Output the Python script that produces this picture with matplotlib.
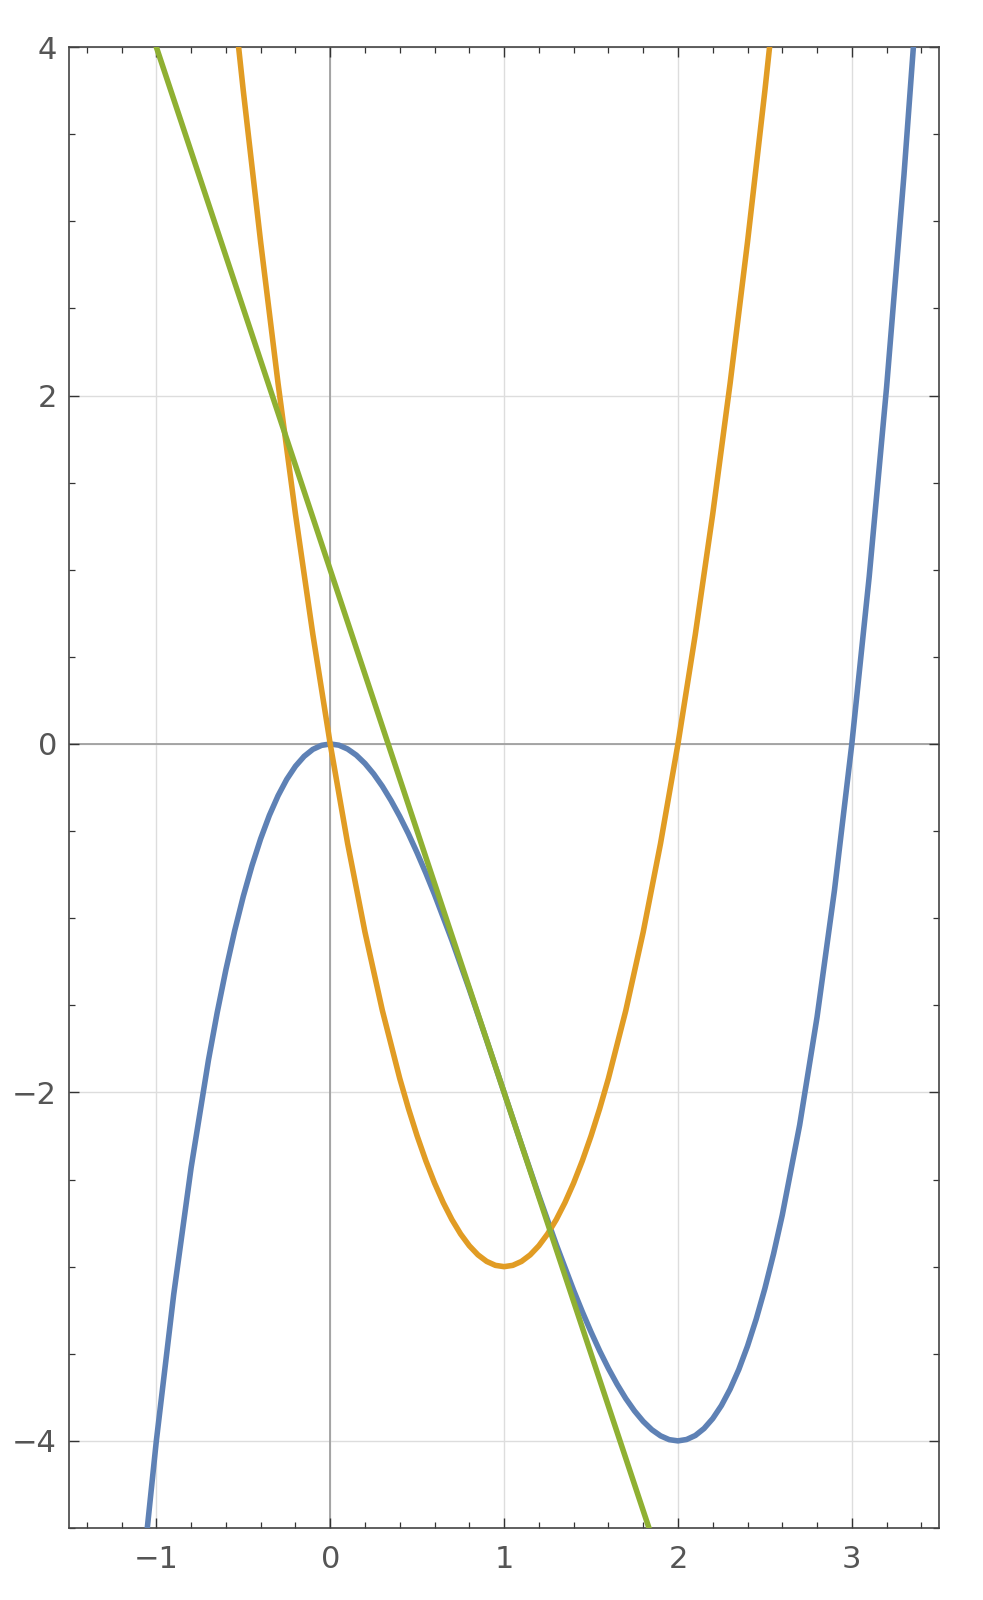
import matplotlib.pyplot as plt
from matplotlib.ticker import MultipleLocator

# values (denser around the turning points)
x_blue = [-1.1, -1.0, -0.9, -0.8, -0.7, -0.65, -0.6, -0.55, -0.5, -0.45, -0.4, -0.35,
          -0.3, -0.25, -0.2, -0.15, -0.1, -0.05,
          0.0, 0.05, 0.1, 0.15, 0.2, 0.25, 0.3, 0.35, 0.4, 0.45, 0.5, 0.55,
          0.6, 0.7, 0.8, 0.9, 1.0, 1.1, 1.2, 1.3, 1.4, 1.45,
          1.5, 1.55, 1.6, 1.65, 1.7, 1.75, 1.8, 1.85, 1.9, 1.95,
          2.0, 2.05, 2.1, 2.15, 2.2, 2.25, 2.3, 2.35, 2.4, 2.45, 2.5, 2.55,
          2.6, 2.7, 2.8, 2.9, 3.0, 3.1, 3.2, 3.3, 3.4]
y_blue = [-4.961, -4.0, -3.159, -2.432, -1.813, -1.542, -1.296, -1.074, -0.875, -0.699, -0.544, -0.410,
          -0.297, -0.203, -0.128, -0.071, -0.031, -0.008,
          0.0, -0.007, -0.029, -0.064, -0.112, -0.172, -0.243, -0.325, -0.416, -0.516, -0.625, -0.741,
          -0.864, -1.127, -1.408, -1.701, -2.0, -2.299, -2.592, -2.873, -3.136, -3.259,
          -3.375, -3.484, -3.584, -3.675, -3.757, -3.828, -3.888, -3.936, -3.971, -3.993,
          -4.0, -3.992, -3.969, -3.929, -3.872, -3.797, -3.703, -3.590, -3.456, -3.301, -3.125, -2.926,
          -2.704, -2.187, -1.568, -0.841, 0.0, 0.961, 2.048, 3.267, 4.624]

x_orange = [-0.6, -0.5, -0.4, -0.3, -0.2, -0.1, 0.0, 0.1, 0.2, 0.3, 0.4, 0.45, 0.5, 0.55,
            0.6, 0.65, 0.7, 0.75, 0.8, 0.85, 0.9, 0.95, 1.0, 1.05, 1.1, 1.15, 1.2, 1.25,
            1.3, 1.35, 1.4, 1.45, 1.5, 1.55, 1.6, 1.7,
            1.8, 1.9, 2.0, 2.1, 2.2, 2.3, 2.4, 2.5, 2.6]
y_orange = [4.68, 3.75, 2.88, 2.07, 1.32, 0.63, 0.0, -0.57, -1.08, -1.53, -1.92, -2.0925, -2.25, -2.3925,
            -2.52, -2.6325, -2.73, -2.8125, -2.88, -2.9325, -2.97, -2.9925, -3.0, -2.9925, -2.97, -2.9325, -2.88, -2.8125,
            -2.73, -2.6325, -2.52, -2.3925, -2.25, -2.0925, -1.92, -1.53,
            -1.08, -0.57, 0.0, 0.63, 1.32, 2.07, 2.88, 3.75, 4.68]

x_green = [-1.2, 2.0]
y_green = [4.6, -5.0]

blue = '#5E81B5'
orange = '#E19C24'
green = '#8FB032'
labelColor = '#555555'

fig = plt.figure(figsize=(9.83, 16), dpi=100)
ax = fig.add_axes([0.0706, 0.045, 0.8844, 0.9256])

# grid + zero axes
for gx in [-1, 0, 1, 2, 3]:
    ax.axvline(gx, color='#dddddd', lw=1.0, zorder=0)
for gy in [-4, -2, 0, 2, 4]:
    ax.axhline(gy, color='#dddddd', lw=1.0, zorder=0)
ax.axvline(0, color='#999999', lw=1.2, zorder=1)
ax.axhline(0, color='#999999', lw=1.2, zorder=1)

for xs, ys, c in [(x_blue, y_blue, blue), (x_orange, y_orange, orange), (x_green, y_green, green)]:
    ax.plot(xs, ys, color=c, lw=4, solid_capstyle='butt', solid_joinstyle='round', zorder=3)

ax.set_xlim(-1.5, 3.5)
ax.set_ylim(-4.5, 4)

ax.xaxis.set_major_locator(MultipleLocator(1))
ax.xaxis.set_minor_locator(MultipleLocator(0.2))
ax.yaxis.set_major_locator(MultipleLocator(2))
ax.yaxis.set_minor_locator(MultipleLocator(0.5))

ax.tick_params(which='both', direction='in', top=True, right=True, color='#333333')
ax.tick_params(which='major', length=7, width=1.0, labelsize=22, labelcolor=labelColor)
ax.tick_params(which='minor', length=4, width=0.9)
ax.tick_params(axis='x', which='major', pad=12)
ax.tick_params(axis='y', which='major', pad=9)
ax.tick_params(labeltop=False, labelright=False)

for s in ax.spines.values():
    s.set_color('#444444')
    s.set_linewidth(1.2)

fig.savefig('out.png', dpi=100)
